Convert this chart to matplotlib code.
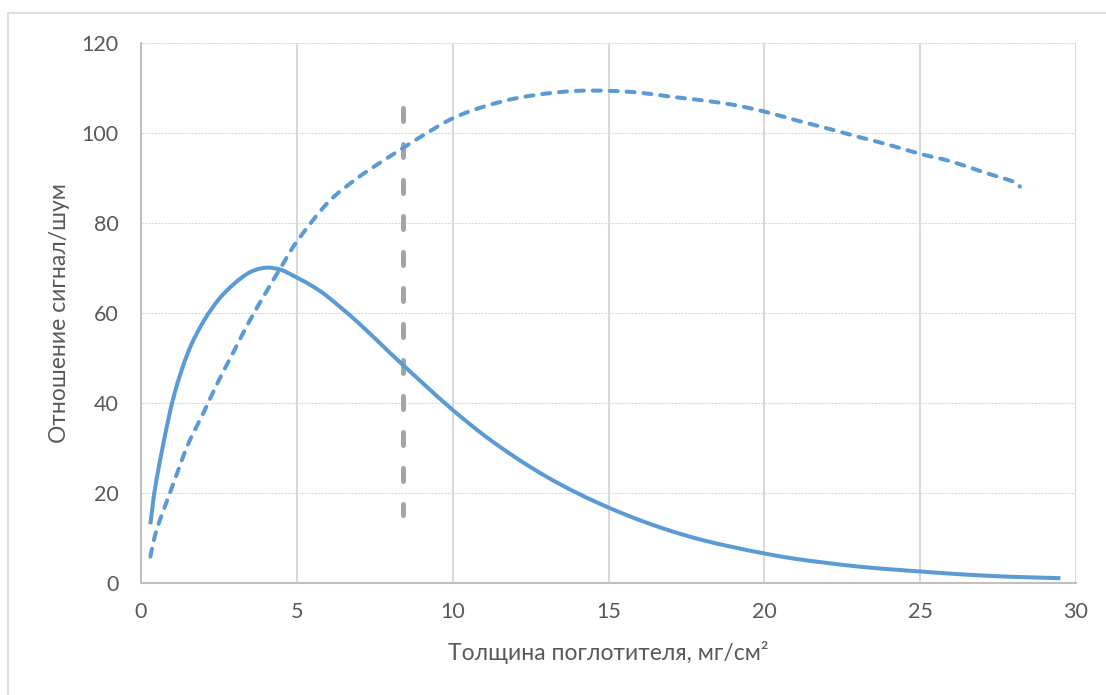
import matplotlib.pyplot as plt
from matplotlib.lines import Line2D
from matplotlib.path import Path
from matplotlib.patches import PathPatch

# Отношение сигнал/шум в зависимости от толщины поглотителя
x_solid = [0.3, 0.5, 1, 1.5, 2, 2.5, 3, 3.5, 4, 4.5, 5, 5.5, 6, 7, 8, 9, 10,
           11, 12, 13, 14, 15, 16, 17, 18, 19, 20, 21, 22, 23, 24, 25, 26,
           27, 28, 29, 29.5]
y_solid = [13, 23, 40, 51, 58, 63, 66.5, 69, 70, 69.5, 67.8, 65.9, 63.5, 57.6,
           51, 44.6, 38.4, 32.8, 27.9, 23.6, 19.9, 16.7, 13.9, 11.5, 9.5, 7.9,
           6.5, 5.3, 4.4, 3.6, 3.0, 2.5, 2.0, 1.6, 1.3, 1.1, 1.0]

x_dash = [0.3, 0.5, 1, 1.5, 2, 2.5, 3, 3.5, 4, 4.5, 5, 6, 7, 8, 8.5, 9, 10,
          11, 12, 13, 14, 15, 16, 17, 18, 19, 20, 21, 22, 23, 24, 25, 26, 27,
          28, 28.2]
y_dash = [5.8, 11.7, 21.3, 30.6, 37.7, 45, 51.7, 58.4, 64.4, 70.2, 75.8, 84.5,
          90.2, 94.8, 97, 99.2, 103.2, 105.8, 107.6, 108.7, 109.3, 109.3,
          108.9, 108, 107.2, 106.2, 104.7, 102.8, 101, 99.1, 97.3, 95.3, 93.6,
          91.3, 89.1, 88]

# вертикальная отметка
mark_x = [8.4, 8.4]
mark_y = [105.6, 15]

xticks = [0, 5, 10, 15, 20, 25, 30]
yticks = [0, 20, 40, 60, 80, 100, 120]

plt.rcParams['font.family'] = ['Lato', 'Noto Sans', 'DejaVu Sans']
blue = '#5B9BD5'
text_c = '#595959'


def smooth_path(xs, ys):
    # сглаженная линия как в Excel: кубические кривые Безье через точки
    pts = list(zip(xs, ys))
    n = len(pts)
    verts = [pts[0]]
    codes = [Path.MOVETO]
    for i in range(n - 1):
        p0 = pts[i - 1] if i > 0 else pts[i]
        p1 = pts[i]
        p2 = pts[i + 1]
        p3 = pts[i + 2] if i + 2 < n else pts[i + 1]
        c1 = (p1[0] + (p2[0] - p0[0]) / 6, p1[1] + (p2[1] - p0[1]) / 6)
        c2 = (p2[0] - (p3[0] - p1[0]) / 6, p2[1] - (p3[1] - p1[1]) / 6)
        verts += [c1, c2, p2]
        codes += [Path.CURVE4] * 3
    return Path(verts, codes)


fig = plt.figure(figsize=(11.06, 6.95), dpi=100)
ax = fig.add_axes([141 / 1106, 1 - 582.7 / 695, 935 / 1106, 540 / 695])

ax.add_patch(PathPatch(smooth_path(x_solid, y_solid), fill=False,
                       edgecolor=blue, lw=2.9, capstyle='butt', zorder=3))
ax.add_patch(PathPatch(smooth_path(x_dash, y_dash), fill=False,
                       edgecolor=blue, lw=2.9, linestyle=(0, (2.0, 2.2)),
                       capstyle='round', zorder=3))
ax.plot(mark_x, mark_y, color='#A5A5A5', lw=3.6, dashes=(2.6, 4.6),
        dash_capstyle='round', zorder=2)

ax.set_xlim(0, 30)
ax.set_ylim(0, 120)
ax.set_xticks(xticks)
ax.set_yticks(yticks)

for y in yticks[1:]:
    ax.axhline(y, color='#D9D9D9', lw=0.8, linestyle=(0, (2, 1)), zorder=1)
for x in xticks[1:]:
    ax.axvline(x, color='#D9D9D9', lw=1.5, zorder=1)

for side in ['top', 'right']:
    ax.spines[side].set_visible(False)
for side in ['left', 'bottom']:
    ax.spines[side].set_color('#BFBFBF')
    ax.spines[side].set_linewidth(1.5)

ax.tick_params(length=0, labelsize=15.5, labelcolor=text_c)
ax.tick_params(axis='x', pad=14)
ax.tick_params(axis='y', pad=16)

fig.text(608 / 1106, 1 - 652 / 695, 'Толщина поглотителя, мг/см²',
         ha='center', va='center', fontsize=16.5, color=text_c)
fig.text(60 / 1106, 1 - 313 / 695, 'Отношение сигнал/шум', rotation=90,
         ha='center', va='center', fontsize=16.5, color=text_c)

# рамка области диаграммы
fig.add_artist(Line2D([8 / 1106, 8 / 1106], [0, 1 - 13 / 695],
                      transform=fig.transFigure, color='#D9D9D9', lw=1.2))
fig.add_artist(Line2D([8 / 1106, 1], [1 - 13 / 695, 1 - 13 / 695],
                      transform=fig.transFigure, color='#D9D9D9', lw=1.2))

fig.savefig('out.png', dpi=100)
